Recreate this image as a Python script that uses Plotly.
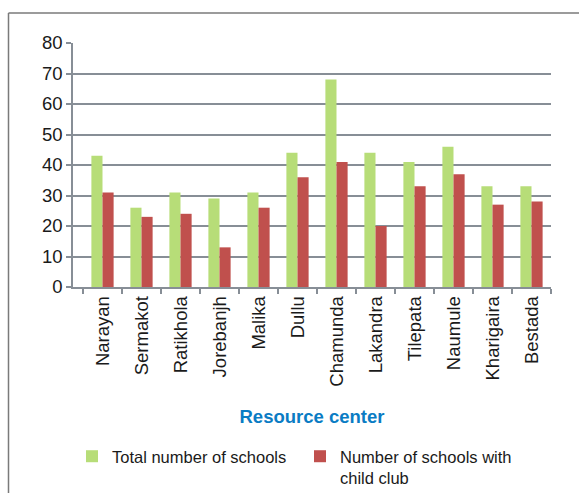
import plotly.graph_objects as go

# Schools per resource center
centers = ["Narayan", "Sermakot", "Ratikhola", "Jorebanjh", "Malika", "Dullu",
           "Chamunda", "Lakandra", "Tilepata", "Naumule", "Kharigaira", "Bestada"]
total_schools = [43, 26, 31, 29, 31, 44, 68, 44, 41, 46, 33, 33]
schools_with_club = [31, 23, 24, 13, 26, 36, 41, 20, 33, 37, 27, 28]

W, H = 579, 493
L, R, T, B = 73, 28, 43, 206
pw, ph = W - L - R, H - T - B

# category band width in pixels; a small empty strip sits left of the first band
band = 39.0
x_left = 11.5 - pw / band

def px_x(px):
    return (px - L) / pw

def px_y(py):
    return (H - B - py) / ph

fig = go.Figure()
fig.add_trace(go.Bar(x=centers, y=total_schools, name="Total number of schools",
                     marker=dict(color="#b7dd78", line=dict(width=0))))
fig.add_trace(go.Bar(x=centers, y=schools_with_club,
                     name="Number of schools with<br>child club",
                     marker=dict(color="#c0504d", line=dict(width=0))))

grid = "#878e96"
font = "Liberation Sans, Arial, sans-serif"

fig.update_layout(
    width=W, height=H,
    margin=dict(l=L, r=R, t=T, b=B, pad=0, autoexpand=False),
    paper_bgcolor="white", plot_bgcolor="white",
    barmode="group", bargap=0.43, bargroupgap=0,
    font=dict(family=font, color="#1a1a1a", size=17),
    showlegend=True,
    legend=dict(orientation="h", x=px_x(72), xanchor="left",
                y=px_y(439), yanchor="top",
                font=dict(size=16.5, color="#1a1a1a"),
                bgcolor="rgba(0,0,0,0)", traceorder="normal",
                itemwidth=30, valign="top", entrywidth=183),
    xaxis=dict(
        title=dict(text="<b>Resource center</b>",
                   font=dict(size=18.5, color="#0a7cc4"), standoff=24),
        range=[x_left, 11.5],
        tickangle=-90, tickfont=dict(size=18.5),
        ticks="outside", ticklen=5, tickcolor=grid, tickwidth=1.5,
        tickson="boundaries", automargin=False,
        showline=True, linecolor=grid, linewidth=1.5,
        showgrid=False,
    ),
    yaxis=dict(
        range=[0, 80], dtick=10, tickfont=dict(size=18.5),
        ticks="outside", ticklen=5, tickcolor=grid, tickwidth=1.5,
        showline=True, linecolor=grid, linewidth=1.5, automargin=False,
        showgrid=True, gridcolor=grid, gridwidth=1.5,
        zeroline=False,
    ),
)

# Outer frame around the chart area (top and left edges)
frame = "#7a7a7a"
fig.add_shape(type="line", xref="paper", yref="paper",
              x0=px_x(8.5), x1=px_x(579), y0=px_y(13), y1=px_y(13),
              line=dict(color=frame, width=1.5))
fig.add_shape(type="line", xref="paper", yref="paper",
              x0=px_x(8.5), x1=px_x(8.5), y0=px_y(13), y1=px_y(493),
              line=dict(color=frame, width=1.5))

fig.write_html("out.html")
